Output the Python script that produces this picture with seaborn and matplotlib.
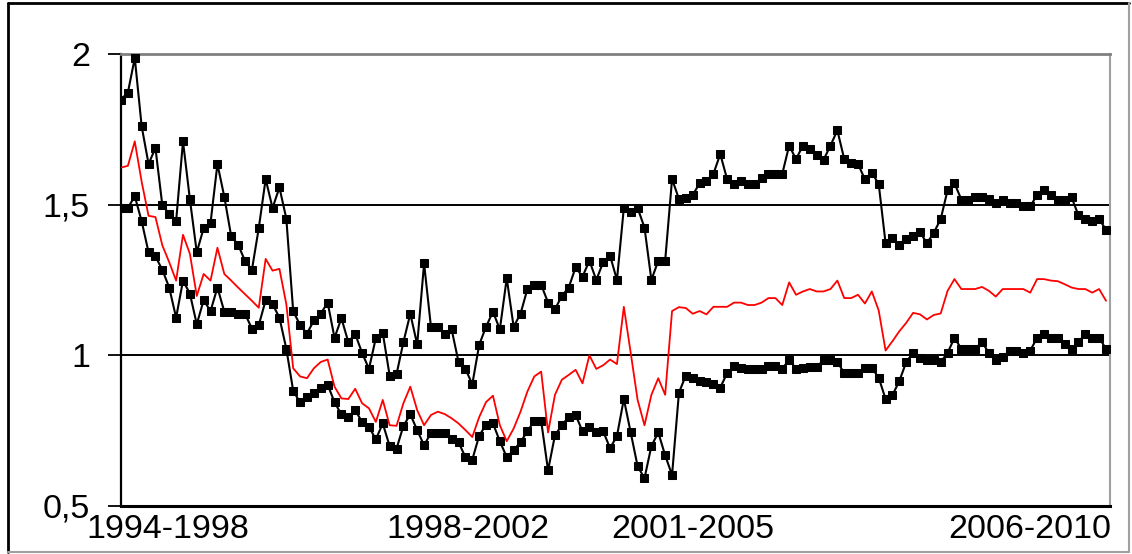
import numpy as np
import pandas as pd
import seaborn as sns
import matplotlib.pyplot as plt
from matplotlib.lines import Line2D

# values (144 periods)
upper = [1.849, 1.872, 1.987, 1.760, 1.635, 1.688, 1.498, 1.470, 1.445, 1.710,
         1.518, 1.342, 1.422, 1.440, 1.635, 1.526, 1.395, 1.367, 1.314, 1.283,
         1.422, 1.585, 1.489, 1.557, 1.454, 1.146, 1.101, 1.072, 1.116, 1.138,
         1.175, 1.058, 1.123, 1.044, 1.071, 1.008, 0.955, 1.058, 1.075, 0.933,
         0.937, 1.044, 1.138, 1.036, 1.305, 1.094, 1.094, 1.071, 1.086, 0.978,
         0.955, 0.904, 1.035, 1.095, 1.145, 1.086, 1.256, 1.095, 1.138, 1.220,
         1.234, 1.234, 1.175, 1.153, 1.197, 1.225, 1.292, 1.261, 1.314, 1.250,
         1.309, 1.331, 1.250, 1.489, 1.476, 1.489, 1.424, 1.250, 1.314, 1.314,
         1.585, 1.519, 1.521, 1.532, 1.571, 1.580, 1.602, 1.668, 1.584, 1.569,
         1.580, 1.569, 1.569, 1.588, 1.602, 1.602, 1.602, 1.696, 1.651, 1.696,
         1.685, 1.666, 1.649, 1.696, 1.747, 1.651, 1.638, 1.635, 1.584, 1.606,
         1.569, 1.372, 1.388, 1.365, 1.387, 1.395, 1.409, 1.372, 1.407, 1.452,
         1.548, 1.571, 1.517, 1.517, 1.524, 1.524, 1.520, 1.504, 1.517, 1.504,
         1.504, 1.495, 1.495, 1.532, 1.548, 1.532, 1.517, 1.517, 1.524, 1.465,
         1.452, 1.445, 1.452, 1.417]

lower = [1.489, 1.489, 1.528, 1.445, 1.342, 1.328, 1.284, 1.225, 1.125, 1.248,
         1.205, 1.103, 1.183, 1.147, 1.225, 1.145, 1.145, 1.138, 1.138, 1.089,
         1.100, 1.183, 1.170, 1.125, 1.022, 0.882, 0.844, 0.863, 0.876, 0.893,
         0.903, 0.844, 0.804, 0.796, 0.818, 0.779, 0.763, 0.721, 0.774, 0.699,
         0.690, 0.766, 0.804, 0.752, 0.701, 0.743, 0.743, 0.743, 0.721, 0.712,
         0.662, 0.654, 0.733, 0.770, 0.774, 0.715, 0.662, 0.685, 0.712, 0.748,
         0.782, 0.782, 0.618, 0.735, 0.768, 0.796, 0.802, 0.748, 0.763, 0.744,
         0.748, 0.692, 0.732, 0.855, 0.744, 0.632, 0.592, 0.699, 0.744, 0.668,
         0.603, 0.876, 0.933, 0.924, 0.915, 0.911, 0.904, 0.893, 0.941, 0.963,
         0.958, 0.955, 0.955, 0.955, 0.963, 0.963, 0.955, 0.986, 0.955, 0.958,
         0.960, 0.960, 0.986, 0.986, 0.978, 0.941, 0.941, 0.941, 0.958, 0.958,
         0.926, 0.855, 0.868, 0.915, 0.978, 1.008, 0.991, 0.986, 0.986, 0.978,
         1.008, 1.058, 1.022, 1.022, 1.022, 1.044, 1.008, 0.986, 0.993, 1.016,
         1.016, 1.008, 1.016, 1.058, 1.071, 1.058, 1.058, 1.038, 1.022, 1.044,
         1.071, 1.058, 1.058, 1.022]

middle = [1.623, 1.629, 1.710, 1.576, 1.463, 1.459, 1.365, 1.309, 1.248, 1.400,
          1.337, 1.197, 1.270, 1.248, 1.357, 1.270, 1.248, 1.225, 1.203, 1.181,
          1.158, 1.320, 1.281, 1.287, 1.170, 0.957, 0.930, 0.924, 0.957, 0.978,
          0.986, 0.896, 0.857, 0.855, 0.889, 0.841, 0.824, 0.779, 0.852, 0.768,
          0.766, 0.841, 0.896, 0.818, 0.768, 0.802, 0.813, 0.805, 0.791, 0.774,
          0.752, 0.729, 0.795, 0.845, 0.866, 0.768, 0.715, 0.757, 0.813, 0.880,
          0.930, 0.946, 0.744, 0.869, 0.919, 0.935, 0.952, 0.907, 1.000, 0.955,
          0.967, 0.986, 0.971, 1.161, 1.008, 0.852, 0.768, 0.869, 0.924, 0.869,
          1.147, 1.160, 1.157, 1.138, 1.147, 1.136, 1.161, 1.161, 1.161, 1.175,
          1.175, 1.167, 1.167, 1.175, 1.190, 1.190, 1.167, 1.242, 1.201, 1.212,
          1.220, 1.212, 1.212, 1.220, 1.248, 1.190, 1.190, 1.201, 1.172, 1.212,
          1.149, 1.016, 1.047, 1.080, 1.108, 1.141, 1.136, 1.119, 1.134, 1.139,
          1.214, 1.253, 1.220, 1.220, 1.220, 1.227, 1.214, 1.195, 1.220, 1.220,
          1.220, 1.220, 1.208, 1.253, 1.253, 1.248, 1.246, 1.236, 1.225, 1.220,
          1.220, 1.208, 1.220, 1.181]

period_labels = ['1994-1998', '1998-2002', '2001-2005', '2006-2010']
period_pos = [6.75, 50.3, 83.0, 132.0]
y_ticks = [0.5, 1.0, 1.5, 2.0]
y_tick_labels = ['0,5', '1', '1,5', '2']

sns.set_style('white')
plt.rcParams['font.family'] = ['Liberation Sans', 'DejaVu Sans']

df = pd.DataFrame({'t': np.arange(len(upper)), 'upper': upper,
                   'lower': lower, 'middle': middle})

W, H = 1132, 554
fig = plt.figure(figsize=(W / 100, H / 100), dpi=100)
ax = fig.add_axes([121 / W, 1 - 506 / H, (1110 - 121) / W, (506 - 54) / H])

for col in ['upper', 'lower']:
    sns.lineplot(data=df, x='t', y=col, ax=ax, color='black', lw=1.5,
                 marker='s', markersize=5.8, markeredgecolor='black',
                 markerfacecolor='black', zorder=3)
sns.lineplot(data=df, x='t', y='middle', ax=ax, color='red', lw=1.3, zorder=4)

for g in [1.0, 1.5]:
    ax.axhline(g, color='black', lw=1.4, zorder=1)

ax.set_xlim(0, 143.58)
ax.set_ylim(0.5, 2.0)
ax.set_yticks(y_ticks, y_tick_labels)
ax.set_xticks(period_pos, period_labels)
ax.set_xlabel('')
ax.set_ylabel('')
ax.tick_params(axis='y', length=9.4, width=1.3, color='black', pad=13,
               labelsize=24.5, labelcolor='black', left=True)
ax.tick_params(axis='x', length=0, pad=6, labelsize=24.5, labelcolor='black')

ax.spines['left'].set_color('black')
ax.spines['left'].set_linewidth(1.6)
ax.spines['bottom'].set_color('black')
ax.spines['bottom'].set_linewidth(2.2)
ax.spines['top'].set_color('#808080')
ax.spines['top'].set_linewidth(2)
ax.spines['right'].set_color('#a0a0a0')
ax.spines['right'].set_linewidth(1.5)

# outer chart frame
def px_line(x0, y0, x1, y1, color, lw):
    fig.add_artist(Line2D([x0 / W, x1 / W], [1 - y0 / H, 1 - y1 / H],
                          transform=fig.transFigure, color=color, lw=lw))

px_line(8, 3, 1129, 3, 'black', 2)
px_line(8, 3, 8, 552, 'black', 2)
px_line(8, 552, 1129, 552, '#a0a0a0', 1.5)
px_line(1129, 3, 1129, 552, '#a0a0a0', 1.5)

fig.savefig('out.png', dpi=100)
